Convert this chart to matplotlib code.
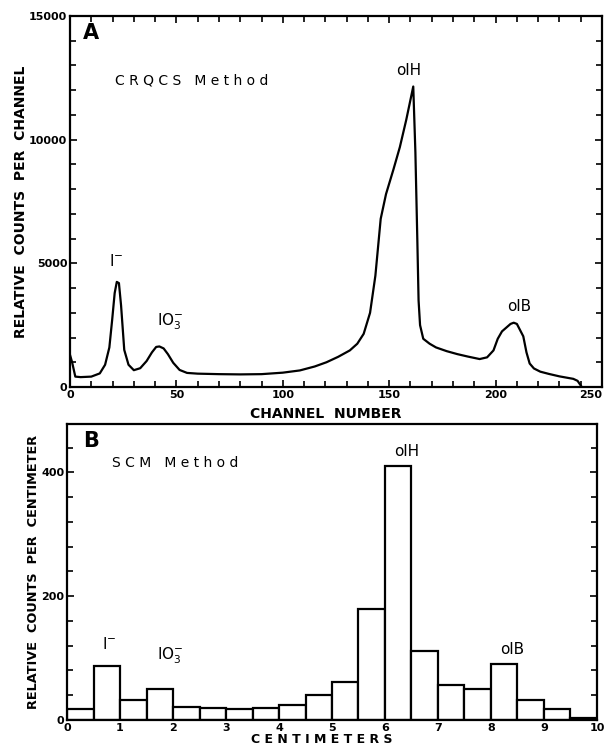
import numpy as np
import matplotlib
matplotlib.use('Agg')
import matplotlib.pyplot as plt
from matplotlib.ticker import MultipleLocator

# panel A: CRQCS spectrum (channel number vs relative counts)
channel = [0, 1, 2.5, 5, 10, 14, 16.5, 18.5, 19.8, 21, 22, 23, 24, 25.5, 27.5,
           30, 33, 36, 38.5, 40.5, 42, 44, 46, 48.5, 51.5, 55, 60, 70, 80, 90,
           100, 108, 115, 120.5, 126, 131.5, 135, 138, 141, 143.5, 146, 148.5,
           152, 155, 158, 161.3, 162.3, 163.2, 163.8, 164.5, 166, 169, 172,
           177, 182, 187, 192.5, 196, 199, 201, 203, 205, 207, 208.5, 210,
           211.5, 213, 214.5, 216, 218, 221, 225, 230, 236.5, 238.5, 240.5]
counts = [1300, 1000, 420, 400, 420, 550, 900, 1600, 2700, 3800, 4250, 4200,
          3300, 1500, 900, 680, 760, 1050, 1400, 1620, 1640, 1560, 1330, 980,
          690, 570, 540, 520, 510, 520, 580, 670, 830, 1000, 1220, 1480, 1750,
          2150, 3000, 4500, 6800, 7800, 8800, 9700, 10800, 12150, 9500, 6000,
          3500, 2500, 1950, 1750, 1600, 1450, 1330, 1230, 1130, 1200, 1480,
          1950, 2250, 2400, 2550, 2600, 2550, 2300, 2050, 1400, 950, 750, 620,
          530, 430, 330, 250, 0]
channel_ticks = [0, 50, 100, 150, 200, 250]

# panel B: SCM histogram, 0.5 cm bins
bin_left = np.arange(0, 10, 0.5)
cm_counts = [18, 87, 32, 50, 21, 19, 18, 19, 25, 41,
             62, 180, 410, 111, 57, 50, 91, 32, 18, 3]

lw = 1.6
txt = 11

fig = plt.figure(figsize=(6.07, 7.49), dpi=100)
axA = fig.add_axes([0.1153, 0.4833, 0.8765, 0.4953])
axB = fig.add_axes([0.1104, 0.0387, 0.8731, 0.3952])

# ---- panel A
axA.plot(channel, counts, 'k-', lw=lw)
axA.set_xlim(0, 250)
axA.set_ylim(0, 15000)
axA.set_xticks(channel_ticks)
axA.set_xticklabels([str(c) for c in channel_ticks])
axA.xaxis.set_minor_locator(MultipleLocator(10))
axA.yaxis.set_major_locator(MultipleLocator(5000))
axA.yaxis.set_minor_locator(MultipleLocator(1000))
axA.tick_params(which='both', direction='in', top=True, right=True,
                width=1.2, labelsize=8, pad=2)
axA.tick_params(which='major', length=5)
axA.tick_params(which='minor', length=4)
axA.set_xlabel('CHANNEL  NUMBER', labelpad=0, fontsize=10, fontweight='bold')
axA.xaxis.set_label_coords(0.48, -0.055)
axA.set_ylabel('RELATIVE  COUNTS  PER  CHANNEL', labelpad=1,
               fontsize=10, fontweight='bold')
axA.get_xticklabels()[-1].set_horizontalalignment('right')

axA.text(6, 14300, 'A', fontsize=15, fontweight='bold', ha='left', va='center')
axA.text(21, 12400, 'C R Q C S   M e t h o d', fontsize=10, ha='left', va='center')
axA.text(21.5, 5100, r'I$^{-}$', fontsize=txt, ha='center', va='center')
axA.text(47, 2650, r'IO$_3^{-}$', fontsize=txt, ha='center', va='center')
axA.text(159, 12800, 'olH', fontsize=txt, ha='center', va='center')
axA.text(211, 3250, 'olB', fontsize=txt, ha='center', va='center')

# ---- panel B
axB.bar(bin_left, cm_counts, width=0.5, align='edge', facecolor='white',
        edgecolor='black', linewidth=lw)
axB.set_xlim(0, 10)
axB.set_ylim(0, 478)
axB.xaxis.set_major_locator(MultipleLocator(1))
axB.yaxis.set_major_locator(MultipleLocator(200))
axB.yaxis.set_minor_locator(MultipleLocator(40))
axB.tick_params(which='both', direction='in', right=True,
                width=1.2, labelsize=8, pad=2)
axB.tick_params(which='major', length=5)
axB.tick_params(which='minor', length=4)
axB.set_xlabel('C E N T I M E T E R S', labelpad=0, fontsize=9, fontweight='bold')
axB.xaxis.set_label_coords(0.48, -0.045)
axB.set_ylabel('RELATIVE  COUNTS  PER  CENTIMETER', labelpad=1,
               fontsize=9.3, fontweight='bold')

axB.text(0.3, 450, 'B', fontsize=15, fontweight='bold', ha='left', va='center')
axB.text(0.85, 415, 'S C M   M e t h o d', fontsize=10, ha='left', va='center')
axB.text(0.8, 122, r'I$^{-}$', fontsize=txt, ha='center', va='center')
axB.text(1.95, 103, r'IO$_3^{-}$', fontsize=txt, ha='center', va='center')
axB.text(6.4, 434, 'olH', fontsize=txt, ha='center', va='center')
axB.text(8.4, 114, 'olB', fontsize=txt, ha='center', va='center')

for ax in (axA, axB):
    for s in ax.spines.values():
        s.set_linewidth(lw)
    for lab in ax.get_xticklabels() + ax.get_yticklabels():
        lab.set_fontweight('bold')

fig.savefig('out.png', dpi=100)
